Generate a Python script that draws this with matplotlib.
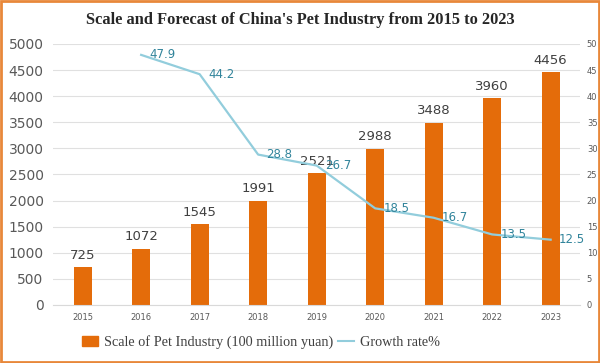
import matplotlib.pyplot as plt
from matplotlib.patches import Rectangle
from matplotlib.lines import Line2D

years = ['2015', '2016', '2017', '2018', '2019', '2020', '2021', '2022', '2023']
scale = [725, 1072, 1545, 1991, 2521, 2988, 3488, 3960, 4456]
growth_years = ['2016', '2017', '2018', '2019', '2020', '2021', '2022', '2023']
growth = [47.9, 44.2, 28.8, 26.7, 18.5, 16.7, 13.5, 12.5]

bar_color = '#E46C0A'
line_color = '#92CDDC'
label_teal = '#31849B'

fig = plt.figure(figsize=(6, 3.63), dpi=100)
ax = fig.add_axes([0.089, 0.16, 0.8775, 0.719])
ax2 = ax.twinx()

x = list(range(len(years)))
ax.bar(x, scale, width=0.31, color=bar_color, zorder=2)
for xi, v in zip(x, scale):
    ax.annotate(str(v), (xi, v), xytext=(0, 4), textcoords='offset points',
                ha='center', va='bottom', fontsize=9.5, color='#404040')

gx = [years.index(y) for y in growth_years]
ax2.plot(gx, growth, color=line_color, lw=1.6, zorder=3)
for xi, v in zip(gx, growth):
    ax2.annotate(f'{v}', (xi, v), xytext=(6, 0), textcoords='offset points',
                 ha='left', va='center', fontsize=8.5, color=label_teal)

ax.set_xlim(-0.5, len(years) - 0.5)
ax.set_ylim(0, 5000)
ax.set_yticks(range(0, 5001, 500))
ax2.set_ylim(0, 50)
ax2.set_yticks(range(0, 51, 5))
ax.set_xticks(x)
ax.set_xticklabels(years, fontsize=6, color='#595959')
ax.tick_params(axis='y', labelsize=10, colors='#595959', length=0, pad=7)
ax.tick_params(axis='x', length=0, pad=6)
ax2.tick_params(axis='y', labelsize=6, colors='#595959', length=0, pad=5)
ax.grid(axis='y', color='#E0E0E0', lw=0.8, zorder=0)
ax.set_axisbelow(True)
for a in (ax, ax2):
    for s in a.spines.values():
        s.set_visible(False)
ax.spines['bottom'].set_visible(True)
ax.spines['bottom'].set_color('#D9D9D9')

fig.text(0.5, 0.945, "Scale and Forecast of China's Pet Industry from 2015 to 2023",
         ha='center', va='center', fontsize=11.8, fontweight='bold',
         family='Liberation Serif', color='#262626')

handles = [Rectangle((0, 0), 1, 1, color=bar_color),
           Line2D([0], [0], color=line_color, lw=1.5)]
fig.legend(handles, ['Scale of Pet Industry (100 million yuan)', 'Growth rate%'],
           loc='center', bbox_to_anchor=(0.435, 0.058), ncol=2, frameon=False,
           prop={'family': 'Liberation Serif', 'size': 10.3}, handlelength=1.1,
           columnspacing=0.4, handletextpad=0.4, labelcolor='#404040')

fig.patches.append(Rectangle((0.002, 0.003), 0.996, 0.994, transform=fig.transFigure,
                             fill=False, edgecolor='#E8883A', lw=2))

plt.savefig('out.png', dpi=100)
